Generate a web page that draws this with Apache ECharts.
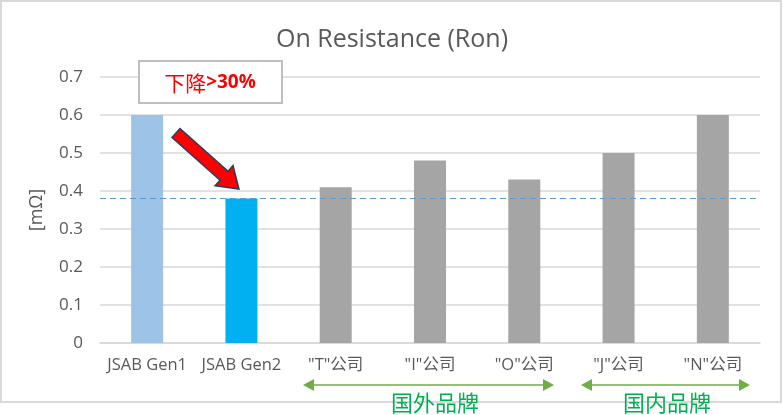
<!DOCTYPE html>
<html>
<head>
<meta charset="utf-8">
<script src="https://cdn.jsdelivr.net/npm/echarts@6/dist/echarts.min.js"></script>
<style>html,body{margin:0;padding:0;background:#fff;}#c{width:784px;height:415px;}</style>
</head>
<body>
<div id="c"></div>
<script>
var categories = ['JSAB Gen1', 'JSAB Gen2', '"T"公司', '"I"公司', '"O"公司', '"J"公司', '"N"公司'];
var values = [0.60, 0.38, 0.41, 0.48, 0.43, 0.50, 0.60];
var barColors = ['#9DC3E6', '#00B0F0', '#A5A5A5', '#A5A5A5', '#A5A5A5', '#A5A5A5', '#A5A5A5'];
var refLine = 0.383;
var yTicks = { min: 0, max: 0.7, interval: 0.1 };
var titleText = 'On Resistance (Ron)';
var yName = '[mΩ]';
var noteCjk = '下降';
var noteNum = '>30%';
var groupLabels = ['国外品牌', '国内品牌'];

var FONT = '"Open Sans","Noto Sans CJK SC",sans-serif';
var chart = echarts.init(document.getElementById('c'), null, { renderer: 'canvas' });

function arrowPoly(x1, y1, x2, y2, shaftW, headW, headL) {
  var dx = x2 - x1, dy = y2 - y1, L = Math.sqrt(dx * dx + dy * dy);
  var ux = dx / L, uy = dy / L, px = -uy, py = ux;
  var bx = x2 - ux * headL, by = y2 - uy * headL;
  var s = shaftW / 2, h = headW / 2;
  return [
    [x1 + px * s, y1 + py * s], [bx + px * s, by + py * s], [bx + px * h, by + py * h],
    [x2, y2],
    [bx - px * h, by - py * h], [bx - px * s, by - py * s], [x1 - px * s, y1 - py * s]
  ];
}
function doubleArrow(x1, x2, y, color) {
  var hl = 11, hw = 12;
  return [
    { type: 'line', shape: { x1: x1 + hl, y1: y, x2: x2 - hl, y2: y }, style: { stroke: color, lineWidth: 1.5 } },
    { type: 'polygon', shape: { points: [[x1, y], [x1 + hl, y - hw / 2], [x1 + hl, y + hw / 2]] }, style: { fill: color } },
    { type: 'polygon', shape: { points: [[x2, y], [x2 - hl, y - hw / 2], [x2 - hl, y + hw / 2]] }, style: { fill: color } }
  ];
}

var graphics = [
  { type: 'rect', shape: { x: 1, y: 1, width: 780, height: 401 }, style: { fill: 'none', stroke: '#D9D9D9', lineWidth: 2 }, z: 0 },
  { type: 'rect', shape: { x: 139, y: 61, width: 143, height: 42 }, style: { fill: '#fff', stroke: '#BFBFBF', lineWidth: 2 }, z: 10 },
  { type: 'text', x: 210, y: 83, style: {
      text: '{a|' + noteCjk + '}{b|' + noteNum + '}', align: 'center', verticalAlign: 'middle',
      rich: {
        a: { fill: '#FF0000', fontSize: 21, fontFamily: '"Noto Sans CJK SC",sans-serif', fontWeight: 'normal' },
        b: { fill: '#FF0000', fontSize: 19, fontFamily: '"Open Sans",sans-serif', fontWeight: 'bold' }
      } }, z: 11 },
  { type: 'polygon', shape: { points: arrowPoly(176, 133, 239, 189, 12, 27, 20) }, style: { fill: '#FF0000', stroke: '#243F60', lineWidth: 1.5 }, z: 11 },
  { type: 'text', x: 435, y: 403, style: { text: groupLabels[0], fill: '#00B050', font: '22px "Noto Sans CJK SC",sans-serif', align: 'center', verticalAlign: 'middle' }, z: 11 },
  { type: 'text', x: 667, y: 403, style: { text: groupLabels[1], fill: '#00B050', font: '22px "Noto Sans CJK SC",sans-serif', align: 'center', verticalAlign: 'middle' }, z: 11 }
].concat(doubleArrow(303, 554, 385, '#70AD47')).concat(doubleArrow(581, 750, 385, '#70AD47'));

chart.setOption({
  animation: false,
  backgroundColor: '#fff',
  title: {
    text: titleText, left: 'center', top: 22,
    textStyle: { color: '#595959', fontSize: 25, fontWeight: 'normal', fontFamily: FONT }
  },
  grid: { left: 100, right: 24, top: 77, bottom: 72 },
  xAxis: {
    type: 'category', data: categories,
    axisLine: { lineStyle: { color: '#D9D9D9', width: 1.5 } },
    axisTick: { show: false },
    axisLabel: { color: '#595959', fontSize: 16.5, margin: 14, fontFamily: FONT, interval: 0 }
  },
  yAxis: {
    type: 'value', min: yTicks.min, max: yTicks.max, interval: yTicks.interval,
    name: yName, nameLocation: 'middle', nameGap: 54, nameRotate: 90,
    nameTextStyle: { color: '#595959', fontSize: 18, fontFamily: FONT },
    axisLine: { show: false }, axisTick: { show: false },
    axisLabel: { color: '#595959', fontSize: 17, margin: 17, fontFamily: FONT },
    splitLine: { lineStyle: { color: '#D9D9D9', width: 1.5 } }
  },
  series: [{
    type: 'bar', barWidth: 32,
    data: values.map(function (v, i) { return { value: v, itemStyle: { color: barColors[i] } }; }),
    markLine: {
      silent: true, symbol: ['none', 'none'], label: { show: false },
      lineStyle: { color: '#5B9BD5', type: [6, 4], width: 1 },
      data: [{ yAxis: refLine }]
    }
  }],
  graphic: graphics
});
</script>
</body>
</html>
